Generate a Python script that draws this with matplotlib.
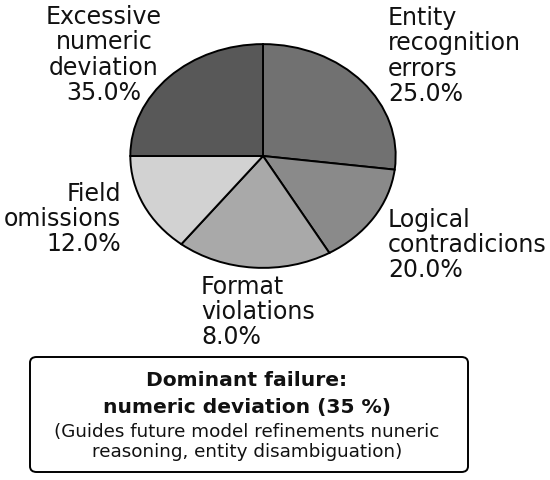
import matplotlib
matplotlib.use("Agg")
import matplotlib.pyplot as plt
from matplotlib.patches import FancyBboxPatch

# Categories in clockwise order starting at 12 o'clock
categories = ["Entity\nrecognition\nerrors", "Logical\ncontradicions", "Format\nviolations",
              "Field\nomissions", "Excessive\nnumeric\ndeviation"]
# Printed percentages on the labels
printed_pct = [25.0, 20.0, 8.0, 12.0, 35.0]
# Drawn wedge sizes as they appear in the picture (degrees of arc)
wedge_sizes = [97, 53, 68, 52, 90]
colors = ["#717171", "#8a8a8a", "#a9a9a9", "#d2d2d2", "#585858"]

W, H = 550, 480
fig = plt.figure(figsize=(W / 100, H / 100), dpi=100)
plt.rcParams['font.family'] = ['DejaVu Sans']

# Pie axes (elliptical pie)
x0, x1, y0, y1 = 129, 397, 43, 269
ax = fig.add_axes([x0 / W, 1 - y1 / H, (x1 - x0) / W, (y1 - y0) / H])
ax.pie(wedge_sizes, colors=colors, startangle=90, counterclock=False,
       wedgeprops=dict(edgecolor="black", linewidth=1.4))
ax.set_aspect('auto')
ax.set_xlim(-1.01, 1.01)
ax.set_ylim(-1.01, 1.01)
ax.axis('off')

fs = 17
def px(x, y):
    return x / W, 1 - y / H

# label placements: (x, y of text center, ha)
placements = [
    (388, 56, 'left'),
    (388, 245, 'left'),
    (201, 312, 'left'),
    (121, 219, 'right'),
    (104, 55, 'center'),
]
for cat, pct, (x, y, ha) in zip(categories, printed_pct, placements):
    fig.text(*px(x, y), f"{cat}\n{pct:.1f}%", ha=ha, va='center', fontsize=fs,
             linespacing=1.06, color='#111111', multialignment=ha)

# Annotation box
bx0, by0, bx1, by1 = 30, 357, 468, 472
box = FancyBboxPatch((bx0 / W, 1 - by1 / H), (bx1 - bx0) / W, (by1 - by0) / H,
                     boxstyle="round,pad=0,rounding_size=0.012",
                     transform=fig.transFigure, facecolor='white',
                     edgecolor='black', linewidth=1.4)
fig.patches.append(box)
fig.text(*px(247, 381), "Dominant failure:", ha='center', va='center',
         fontsize=14.6, fontweight='bold', color='#111111')
fig.text(*px(247, 407), "numeric deviation (35 %)", ha='center', va='center',
         fontsize=14.6, fontweight='bold', color='#111111')
fig.text(*px(247, 442), "(Guides future model refinements nuneric\nreasoning, entity disambiguation)",
         ha='center', va='center', fontsize=13.2, linespacing=1.12, color='#111111')

fig.savefig("out.png", dpi=100, facecolor='white')
